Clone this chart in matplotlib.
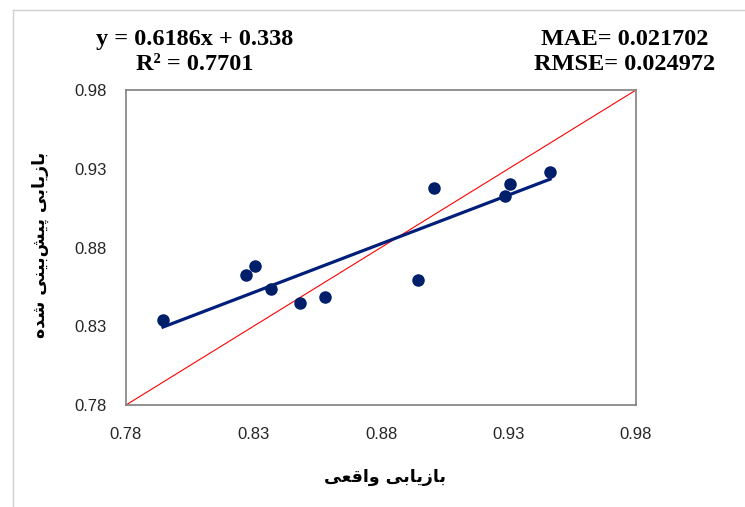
import matplotlib
matplotlib.use("Agg")
import matplotlib.pyplot as plt
import numpy as np
from matplotlib.lines import Line2D

actual = [0.7945, 0.827, 0.8306, 0.8369, 0.8482, 0.858, 0.8945, 0.9008, 0.9286, 0.9306, 0.9463]
predicted = [0.834, 0.8625, 0.868, 0.8537, 0.8448, 0.8486, 0.8594, 0.918, 0.9127, 0.9203, 0.928]
slope, intercept = 0.6186, 0.338
ticks = [0.78, 0.83, 0.88, 0.93, 0.98]
xlabel = "بازیابی واقعی"
ylabel = "بازیابی پیش\u200cبینی شده"
eq_text = "y = 0.6186x + 0.338\nR² = 0.7701"
err_text = "MAE= 0.021702\nRMSE= 0.024972"

# minimal Arabic/Persian shaping: (isolated, final, initial, medial)
FORMS = {
    "ا": ("\uFE8D", "\uFE8E", None, None),
    "ب": ("\uFE8F", "\uFE90", "\uFE91", "\uFE92"),
    "پ": ("\uFB56", "\uFB57", "\uFB58", "\uFB59"),
    "ز": ("\uFEAF", "\uFEB0", None, None),
    "ی": ("\uFBFC", "\uFBFD", "\uFBFE", "\uFBFF"),
    "و": ("\uFEED", "\uFEEE", None, None),
    "ق": ("\uFED5", "\uFED6", "\uFED7", "\uFED8"),
    "ع": ("\uFEC9", "\uFECA", "\uFECB", "\uFECC"),
    "ش": ("\uFEB5", "\uFEB6", "\uFEB7", "\uFEB8"),
    "ن": ("\uFEE5", "\uFEE6", "\uFEE7", "\uFEE8"),
    "د": ("\uFEA9", "\uFEAA", None, None),
    "ه": ("\uFEE9", "\uFEEA", "\uFEEB", "\uFEEC"),
}


def shape(text):
    out = []
    n = len(text)
    for i, ch in enumerate(text):
        if ch not in FORMS:
            if ch != "\u200c":
                out.append(ch)
            continue
        iso, fin, ini, med = FORMS[ch]
        prev = text[i - 1] if i > 0 else None
        nxt = text[i + 1] if i < n - 1 else None
        join_prev = prev in FORMS and FORMS[prev][2] is not None
        join_next = nxt in FORMS and ini is not None
        if join_prev and join_next:
            out.append(med)
        elif join_prev:
            out.append(fin)
        elif join_next:
            out.append(ini)
        else:
            out.append(iso)
    return "".join(out)[::-1]


fig = plt.figure(figsize=(7.45, 5.07), dpi=100)
ax = fig.add_axes([126 / 745, 1 - 405 / 507, 510 / 745, 315 / 507])

ax.plot([0.78, 0.98], [0.78, 0.98], color="#ff0000", lw=0.8, zorder=2)
xs = np.array([min(actual), max(actual)])
ax.plot(xs, slope * xs + intercept, color="#001f7a", lw=2.3, zorder=3)
ax.plot(actual, predicted, "o", color="#001f6b", ms=8, zorder=4)

ax.set_xlim(0.78, 0.98)
ax.set_ylim(0.78, 0.98)
ax.set_xticks(ticks)
ax.set_yticks(ticks)
ax.set_xticklabels([f"{t:.2f}" for t in ticks])
ax.set_yticklabels([f"{t:.2f}" for t in ticks])
ax.tick_params(length=0, labelsize=12, colors="#262626")
ax.tick_params(axis="x", pad=16)
ax.tick_params(axis="y", pad=14)
for lab in ax.get_xticklabels() + ax.get_yticklabels():
    lab.set_family("Liberation Sans")
for s in ax.spines.values():
    s.set_color("#7f7f7f")
    s.set_linewidth(1.2)

fig.text(385 / 745, 1 - 477 / 507, shape(xlabel), ha="center", va="center",
         fontsize=12.5, fontweight="bold", family="DejaVu Sans")
fig.text(40 / 745, 1 - 245 / 507, shape(ylabel), ha="center", va="center",
         rotation=90, fontsize=12.5, fontweight="bold", family="DejaVu Sans")

fig.text(195 / 745, 1 - 52 / 507, eq_text, ha="center", va="center", fontsize=17.5,
         fontweight="bold", family="Liberation Serif", linespacing=1.25)
fig.text(625 / 745, 1 - 52 / 507, err_text, ha="center", va="center", fontsize=17.5,
         fontweight="bold", family="Liberation Serif", linespacing=1.25)

# light chart-area frame
fig.add_artist(Line2D([13 / 745, 13 / 745], [0, 1 - 10 / 507], color="#d0d0d0", lw=1))
fig.add_artist(Line2D([13 / 745, 1], [1 - 10 / 507, 1 - 10 / 507], color="#d0d0d0", lw=1))

fig.savefig("out.png", dpi=100)
